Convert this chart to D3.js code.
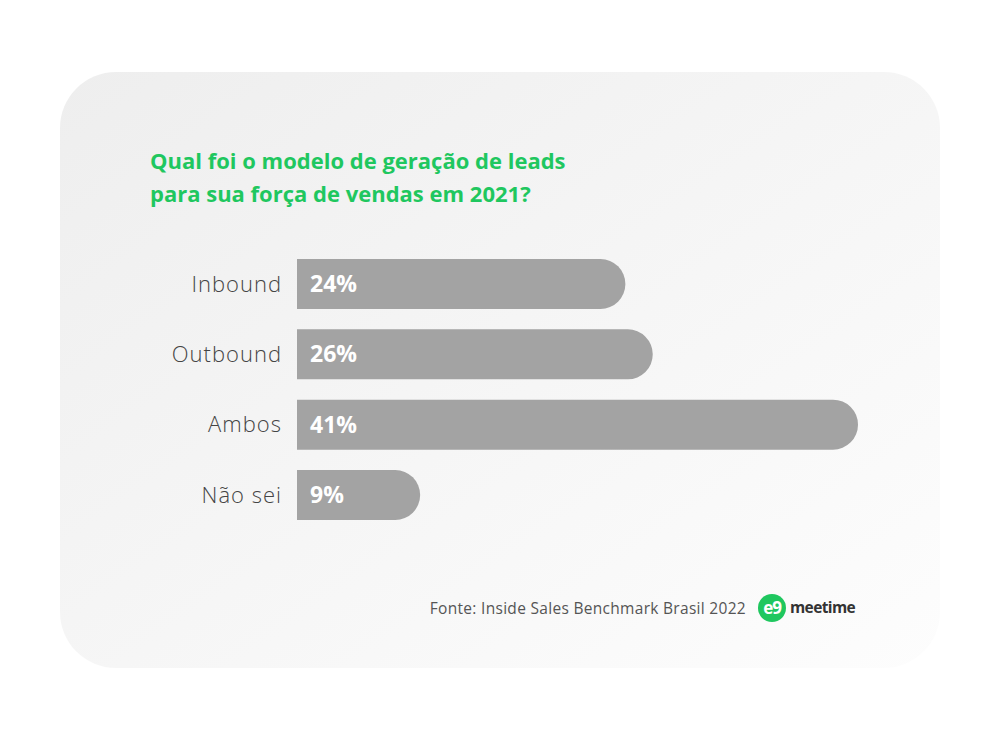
<!DOCTYPE html>
<html>
<head>
<meta charset="utf-8">
<script src="https://cdn.jsdelivr.net/npm/d3@7"></script>
<style>
  html, body { margin: 0; padding: 0; background: #fff; }
</style>
</head>
<body>
<script>
const categories = ["Inbound", "Outbound", "Ambos", "Não sei"];
const values = [24, 26, 41, 9];
const titleLines = ["Qual foi o modelo de geração de leads", "para sua força de vendas em 2021?"];
const sourceText = "Fonte: Inside Sales Benchmark Brasil 2022";

const w = 1000, h = 730;
const font = "'Open Sans', sans-serif";
const svg = d3.select("body").append("svg").attr("width", w).attr("height", h);

// background card gradient
const defs = svg.append("defs");
const grad = defs.append("linearGradient").attr("id", "bg")
    .attr("x1", "0%").attr("y1", "0%").attr("x2", "100%").attr("y2", "100%");
grad.append("stop").attr("offset", "0%").attr("stop-color", "#eeeeee");
grad.append("stop").attr("offset", "100%").attr("stop-color", "#fdfdfd");

svg.append("rect")
    .attr("x", 60).attr("y", 72).attr("width", 880).attr("height", 596)
    .attr("rx", 56).attr("ry", 56)
    .attr("fill", "url(#bg)");

// title
svg.append("g").selectAll("text")
    .data(titleLines)
    .enter().append("text")
    .attr("x", 150)
    .attr("y", (d, i) => 169 + i * 33)
    .attr("font-family", font)
    .attr("font-size", 22)
    .attr("font-weight", 700)
    .attr("fill", "#1fc75f")
    .text(d => d);

// scales
const x = d3.scaleLinear().domain([0, 41]).range([297, 858]);
const y = d3.scaleBand().domain(categories).range([259, 520]).paddingInner(0.29).paddingOuter(0);

// bars: square left, round right
const barPath = (v, c) => {
    const x0 = x(0), x1 = x(v), y0 = y(c), bh = y.bandwidth(), r = bh / 2;
    return `M${x0},${y0}H${x1 - r}A${r},${r} 0 0 1 ${x1 - r},${y0 + bh}H${x0}Z`;
};

svg.append("g").selectAll("path")
    .data(categories)
    .enter().append("path")
    .attr("d", (c, i) => barPath(values[i], c))
    .attr("fill", "#a3a3a3");

// category labels
svg.append("g").selectAll("text")
    .data(categories)
    .enter().append("text")
    .attr("x", 282)
    .attr("y", c => y(c) + y.bandwidth() / 2)
    .attr("dy", "0.35em")
    .attr("text-anchor", "end")
    .attr("font-family", font)
    .attr("font-size", 22)
    .attr("font-weight", 300)
    .attr("letter-spacing", 1)
    .attr("fill", "#444")
    .text(c => c);

// value labels
svg.append("g").selectAll("text")
    .data(categories)
    .enter().append("text")
    .attr("x", x(0) + 13)
    .attr("y", c => y(c) + y.bandwidth() / 2)
    .attr("dy", "0.35em")
    .attr("font-family", font)
    .attr("font-size", 23)
    .attr("font-weight", 700)
    .attr("fill", "#fff")
    .text((c, i) => values[i] + "%");

// source
svg.append("text")
    .attr("x", 746).attr("y", 614)
    .attr("text-anchor", "end")
    .attr("font-family", font)
    .attr("font-size", 15.5)
    .attr("letter-spacing", 0.3)
    .attr("fill", "#555")
    .text(sourceText);

// logo
const logo = svg.append("g").attr("transform", "translate(772,608)");
logo.append("circle").attr("r", 14).attr("fill", "#1fc75f");
logo.append("text")
    .attr("text-anchor", "middle").attr("dy", "0.33em")
    .attr("font-family", font).attr("font-size", 17).attr("font-weight", 700)
    .attr("fill", "#fff").attr("letter-spacing", -1)
    .text("e9");
svg.append("text")
    .attr("x", 790).attr("y", 613)
    .attr("font-family", font).attr("font-size", 15.5).attr("font-weight", 700)
    .attr("fill", "#333").attr("letter-spacing", -0.6)
    .text("meetime");
</script>
</body>
</html>
